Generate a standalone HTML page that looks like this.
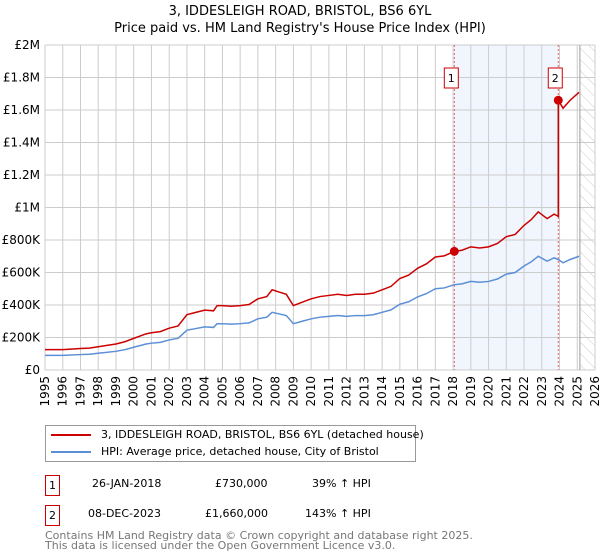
<!DOCTYPE html>
<html><head><meta charset="utf-8"><style>
body{margin:0;background:#fff;font-family:"DejaVu Sans","Liberation Sans",sans-serif;}
#wrap{position:relative;width:600px;height:560px;overflow:hidden;}
.t{position:absolute;font-size:12px;color:#000;white-space:nowrap;}
</style></head><body>
<div id="wrap">
<div class="t" style="left:0;width:600px;text-align:center;top:3px;font-size:13px;line-height:17px">3, IDDESLEIGH ROAD, BRISTOL, BS6 6YL<br>Price paid vs. HM Land Registry's House Price Index (HPI)</div>
<svg id="chart" width="600" height="420" style="position:absolute;left:0;top:0"></svg>
<div style="position:absolute;left:45px;top:425px;width:371px;height:37px;border:1px solid #999;box-sizing:border-box">
 <div><div style="position:absolute;left:5px;top:8px;width:40px;height:2px;background:#cc0000"></div><div class="t" style="left:55px;top:2px;font-size:11px">3, IDDESLEIGH ROAD, BRISTOL, BS6 6YL (detached house)</div></div>
 <div><div style="position:absolute;left:5px;top:25px;width:40px;height:2px;background:#5b8fd6"></div><div class="t" style="left:55px;top:19px;font-size:11px">HPI: Average price, detached house, City of Bristol</div></div>
</div>
<div>
 <div class="t" style="left:45px;top:475px;width:15px;height:21px;border:1px solid #cc0000;box-sizing:border-box;text-align:center;line-height:19px;font-size:11px">1</div>
 <div class="t" style="left:92px;top:477px;font-size:11px">26-JAN-2018</div>
 <div class="t" style="left:215px;top:477px;font-size:11px">£730,000</div>
 <div class="t" style="left:312px;top:477px;font-size:11px">39% ↑ HPI</div>
</div>
<div>
 <div class="t" style="left:45px;top:505px;width:15px;height:21px;border:1px solid #cc0000;box-sizing:border-box;text-align:center;line-height:19px;font-size:11px">2</div>
 <div class="t" style="left:88px;top:507px;font-size:11px">08-DEC-2023</div>
 <div class="t" style="left:205px;top:507px;font-size:11px">£1,660,000</div>
 <div class="t" style="left:305px;top:507px;font-size:11px">143% ↑ HPI</div>
</div>
<div class="t" style="left:45px;top:531px;font-size:11px;color:#777;line-height:10px">Contains HM Land Registry data © Crown copyright and database right 2025.<br>This data is licensed under the Open Government Licence v3.0.</div>
</div>
<script>
const hpiYears=[1995,1996,1997,1997.5,1998,1999,1999.5,2000,2000.7,2001,2001.5,2002,2002.5,2003,2003.5,2004,2004.5,2004.7,2005,2005.5,2006,2006.5,2007,2007.5,2007.8,2008.2,2008.6,2009,2009.5,2010,2010.5,2011,2011.5,2012,2012.5,2013,2013.5,2014,2014.5,2015,2015.5,2016,2016.5,2017,2017.5,2018.07,2018.5,2019,2019.5,2020,2020.5,2021,2021.5,2022,2022.4,2022.8,2023.3,2023.7,2023.93,2024.2,2024.6,2025.1];
const hpiValues=[90,90,95,97,103,115,125,140,160,165,170,185,195,245,255,265,262,285,285,282,285,290,315,325,355,345,335,285,300,315,325,330,335,330,335,335,340,355,370,405,420,450,470,500,505,525,530,545,540,545,560,590,600,640,665,700,670,690,680,660,680,700];
const saleDates=[2018.07,2023.93];
const salePrices=[730000,1660000];
const saleLabels=["1","2"];
const yTickLabels=["£0","£200K","£400K","£600K","£800K","£1M","£1.2M","£1.4M","£1.6M","£1.8M","£2M"];
const yTickValues=[0,200000,400000,600000,800000,1000000,1200000,1400000,1600000,1800000,2000000];
const xTickYears=[1995,1996,1997,1998,1999,2000,2001,2002,2003,2004,2005,2006,2007,2008,2009,2010,2011,2012,2013,2014,2015,2016,2017,2018,2019,2020,2021,2022,2023,2024,2025,2026];
const X0=45,X1=595,Y0=370,Y1=45;
const xs=y=>X0+(y-1995)/(2026-1995)*(X1-X0);
const ys=v=>Y0-v/2000000*(Y0-Y1);
const NS="http://www.w3.org/2000/svg";
const svg=document.getElementById('chart');
function mk(tag,at,parent){const e=document.createElementNS(NS,tag);for(const k in at)e.setAttribute(k,at[k]);(parent||svg).appendChild(e);return e;}
let band=mk('rect',{x:xs(saleDates[0]),y:Y1,width:xs(saleDates[1])-xs(saleDates[0]),height:Y0-Y1,fill:'#f1f5fd'});


const defs=mk('defs',{});
const pat=mk('pattern',{id:'hatch',width:8,height:8,patternUnits:'userSpaceOnUse',patternTransform:'rotate(-45)'},defs);
mk('line',{x1:0,y1:0,x2:0,y2:8,stroke:'#ccc','stroke-width':1},pat);
let hat=mk('rect',{x:xs(2025.15),y:Y1,width:X1-xs(2025.15),height:Y0-Y1,fill:'url(#hatch)'});


xTickYears.forEach(y=>{const l=mk('line',{x1:xs(y),x2:xs(y),y1:Y1,y2:Y0,stroke:'#ccc'});


const t=mk('text',{x:0,y:0,transform:`translate(${xs(y)+4},${Y0+6}) rotate(-90)`,'text-anchor':'end','font-size':12,fill:'#000','font-family':'DejaVu Sans,sans-serif'});t.textContent=y;

});
yTickValues.forEach((v,i)=>{const l=mk('line',{x1:X0,x2:X1,y1:ys(v),y2:ys(v),stroke:'#ccc'});


const t=mk('text',{x:X0-5,y:ys(v)+4,'text-anchor':'end','font-size':12,fill:'#000','font-family':'DejaVu Sans,sans-serif'});t.textContent=yTickLabels[i];

});
mk('line',{x1:xs(2025.15),x2:xs(2025.15),y1:Y1,y2:Y0,stroke:'#999'});
saleDates.forEach(d=>{const l=mk('line',{x1:xs(d),x2:xs(d),y1:Y1,y2:Y0,stroke:'#e06060','stroke-dasharray':'2,2'});

});
const hp=hpiYears.map((y,i)=>xs(y)+','+ys(hpiValues[i]*1000)).join(' ');
let hl=mk('polyline',{points:hp,fill:'none',stroke:'#5b8fd6','stroke-width':1.5});


function hpiAt(d){for(let i=1;i<hpiYears.length;i++){if(d<=hpiYears[i]){const f=(d-hpiYears[i-1])/(hpiYears[i]-hpiYears[i-1]);return (hpiValues[i-1]+f*(hpiValues[i]-hpiValues[i-1]))*1000;}}return hpiValues[hpiValues.length-1]*1000;}
const r1=salePrices[0]/hpiAt(saleDates[0]),r2=salePrices[1]/hpiAt(saleDates[1]);
const pts=[];
hpiYears.forEach((y,i)=>{if(y<saleDates[1])pts.push([y,hpiValues[i]*1000*r1]);});
pts.push([saleDates[1],hpiAt(saleDates[1])*r1]);
pts.push([saleDates[1],salePrices[1]]);
hpiYears.forEach((y,i)=>{if(y>saleDates[1])pts.push([y,hpiValues[i]*1000*r2]);});
let pl=mk('polyline',{points:pts.map(p=>xs(p[0])+','+ys(p[1])).join(' '),fill:'none',stroke:'#cc0000','stroke-width':1.5});


saleDates.forEach((d,i)=>{const c=mk('circle',{cx:xs(d),cy:ys(salePrices[i]),r:4.5,fill:'#cc0000'});


const bx=xs(d)-10;
const r=mk('rect',{x:bx,y:68,width:14,height:20,fill:'#fff',stroke:'#cc0000'});


const t=mk('text',{x:bx+7,y:82,'text-anchor':'middle','font-size':11,'font-family':'DejaVu Sans,sans-serif'});t.textContent=saleLabels[i];

});
</script>
</body></html>
